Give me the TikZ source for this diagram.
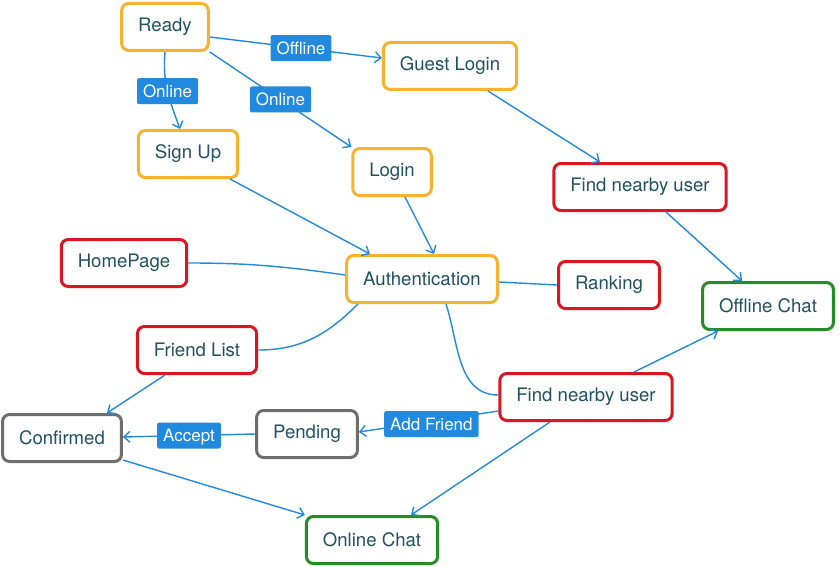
\documentclass[tikz,border=0pt]{standalone}
\usepackage{fontspec}
\setmainfont{TeX Gyre Heros}
\usepackage{tikz}
\usetikzlibrary{arrows.meta}
\definecolor{flowblue}{RGB}{33,138,222}
\definecolor{boxorange}{RGB}{249,178,44}
\definecolor{boxred}{RGB}{218,22,34}
\definecolor{boxgreen}{RGB}{36,142,36}
\definecolor{boxgray}{RGB}{110,110,110}
\definecolor{textteal}{RGB}{32,82,98}

\begin{document}
\begin{tikzpicture}[x=1pt,y=-1pt,>={Straight Barb[length=6pt,width=11pt]}]
		\tikzstyle{screen}=[rectangle, rounded corners=7pt, line width=3pt, fill=white, minimum height=47pt, inner xsep=16.5pt, text=textteal, font=\fontsize{18.6}{21}\selectfont]
		\tikzstyle{entry}=[screen, draw=boxorange]
		\tikzstyle{feature}=[screen, draw=boxred]
		\tikzstyle{chat}=[screen, draw=boxgreen]
		\tikzstyle{friend}=[screen, draw=boxgray]
		\tikzstyle{link}=[draw=flowblue, line width=1.4pt]
		\tikzstyle{tag}=[rectangle, fill=flowblue, text=white, rounded corners=2pt, inner xsep=6pt, inner ysep=6pt, text height=13pt, text depth=1pt, font=\fontsize{17}{19}\selectfont]

		\useasboundingbox (0,0) rectangle (840,567);

		\node [entry] (ready) at (165,27) {Ready};
		\node [entry] (guest) at (450,66) {Guest Login};
		\node [entry] (signup) at (188,154) {Sign Up};
		\node [entry] (login) at (392,172) {Login};
		\node [feature] (findtop) at (640,187) {Find nearby user};
		\node [feature] (home) at (124,263) {HomePage};
		\node [entry] (auth) at (422,279) {Authentication};
		\node [feature] (rank) at (609,285) {Ranking};
		\node [chat] (offline) at (768,306) {Offline Chat};
		\node [feature] (flist) at (197,350) {Friend List};
		\node [feature] (findlow) at (586,397) {Find nearby user};
		\node [friend] (confirmed) at (62,438) {Confirmed};
		\node [friend] (pending) at (307,434) {Pending};
		\node [chat] (online) at (372,540) {Online Chat};

		\draw [link,->] ([yshift=-10pt]ready.east) -- node [tag,pos=0.53] {Offline} ([yshift=8pt]guest.west);
		\draw [link,->] (ready.south) to [out=-95,in=110] node [tag] {Online} ([xshift=-8pt]signup.north);
		\draw [link,->] (ready.south east) -- node [tag] {Online} (login.north west);
		\draw [link,->] ([xshift=38pt]guest.south) -- ([xshift=-40pt]findtop.north);
		\draw [link,->] ([xshift=26pt]findtop.south) -- ([xshift=-26pt]offline.north);
		\draw [link,->] ([xshift=42pt]signup.south) -- ([xshift=-52pt]auth.north);
		\draw [link,->] ([xshift=13pt]login.south) -- ([xshift=12pt]auth.north);
		\draw [link] (home.east) to [out=0,in=172] ([yshift=4pt]auth.west);
		\draw [link] ([yshift=-3pt]auth.east) -- (rank.west);
		\draw [link] ([xshift=-64pt]auth.south) to [out=-135,in=0] (flist.east);
		\draw [link] ([xshift=24pt]auth.south) to [out=-72,in=180] ([yshift=2pt]findlow.west);
		\draw [link,->] ([xshift=48pt]findlow.north) -- ([xshift=-50pt]offline.south);
		\draw [link,->] ([yshift=-14pt]findlow.west) -- node [tag,pos=0.48,yshift=-3pt] {Add Friend} ([yshift=2pt]pending.east);
		\draw [link,->] (pending.west) -- node [tag] {Accept} ([yshift=1pt]confirmed.east);
		\draw [link,->] ([xshift=-32pt]flist.south) -- ([xshift=45pt]confirmed.north);
		\draw [link,->] ([yshift=3pt]confirmed.south east) -- (online.north west);
		\draw [link,->] ([xshift=-36pt]findlow.south) -- ([xshift=39pt]online.north);
	\end{tikzpicture}
\end{document}
